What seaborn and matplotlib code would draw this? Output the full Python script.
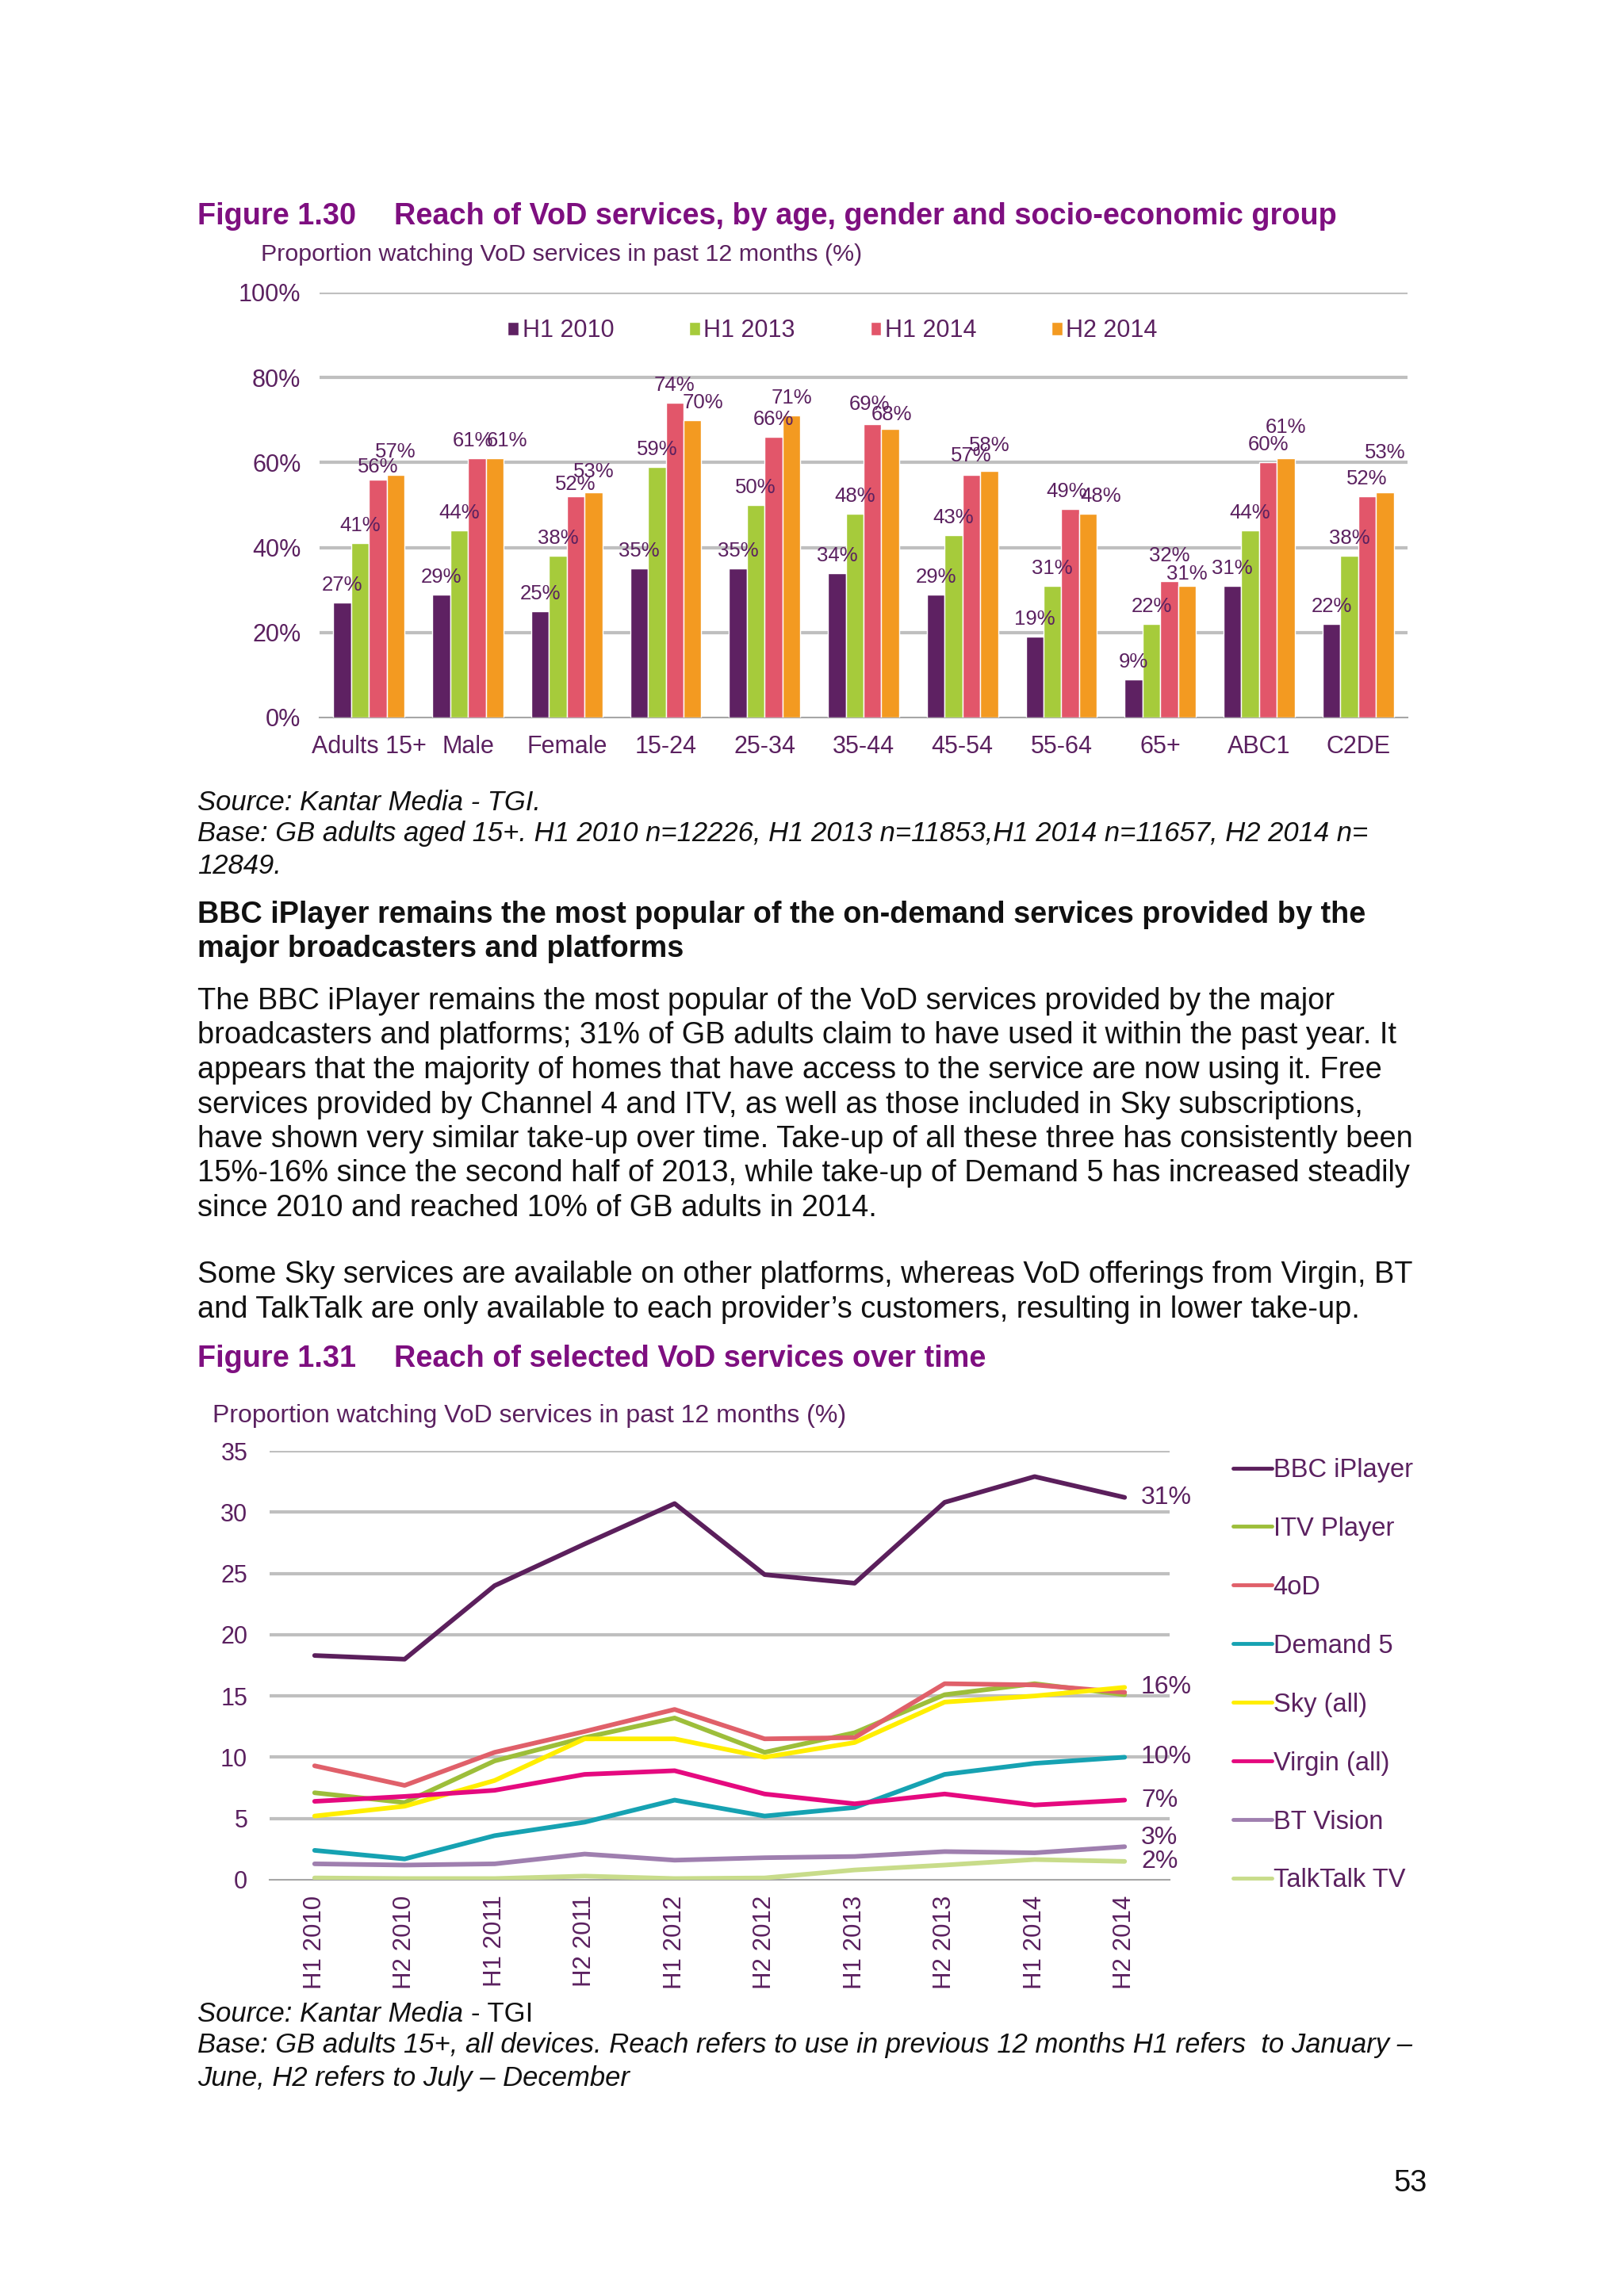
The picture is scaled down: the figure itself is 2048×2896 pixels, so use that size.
import matplotlib
matplotlib.use("Agg")
import matplotlib.pyplot as plt
import numpy as np
import pandas as pd
import seaborn as sns

# ---------------- data: Figure 1.30 ----------------
bar_groups = ["Adults 15+", "Male", "Female", "15-24", "25-34", "35-44",
              "45-54", "55-64", "65+", "ABC1", "C2DE"]
bar_periods = ["H1 2010", "H1 2013", "H1 2014", "H2 2014"]
bar_h1_2010 = [27, 29, 25, 35, 35, 34, 29, 19, 9, 31, 22]
bar_h1_2013 = [41, 44, 38, 59, 50, 48, 43, 31, 22, 44, 38]
bar_h1_2014 = [56, 61, 52, 74, 66, 69, 57, 49, 32, 60, 52]
bar_h2_2014 = [57, 61, 53, 70, 71, 68, 58, 48, 31, 61, 53]
bar_yticks = [0, 20, 40, 60, 80, 100]

# ---------------- data: Figure 1.31 ----------------
line_periods = ["H1 2010", "H2 2010", "H1 2011", "H2 2011", "H1 2012",
                "H2 2012", "H1 2013", "H2 2013", "H1 2014", "H2 2014"]
services = ["BBC iPlayer", "ITV Player", "4oD", "Demand 5", "Sky (all)",
            "Virgin (all)", "BT Vision", "TalkTalk TV"]
bbc_iplayer = [18.3, 18.0, 24.0, 27.4, 30.7, 24.9, 24.2, 30.8, 32.9, 31.2]
itv_player = [7.1, 6.3, 9.7, 11.6, 13.2, 10.4, 12.0, 15.1, 16.0, 15.1]
four_od = [9.3, 7.7, 10.4, 12.1, 13.9, 11.5, 11.6, 16.0, 15.9, 15.3]
demand_5 = [2.4, 1.7, 3.6, 4.7, 6.5, 5.2, 5.9, 8.6, 9.5, 10.0]
sky_all = [5.2, 6.0, 8.1, 11.5, 11.5, 10.0, 11.2, 14.5, 15.0, 15.7]
virgin_all = [6.4, 6.8, 7.3, 8.6, 8.9, 7.0, 6.2, 7.0, 6.1, 6.5]
bt_vision = [1.3, 1.2, 1.3, 2.1, 1.6, 1.8, 1.9, 2.3, 2.2, 2.7]
talktalk_tv = [0.15, 0.1, 0.1, 0.3, 0.1, 0.15, 0.8, 1.2, 1.65, 1.5]
end_labels = {"BBC iPlayer": "31%", "Sky (all)": "16%", "Demand 5": "10%",
              "Virgin (all)": "7%", "BT Vision": "3%", "TalkTalk TV": "2%"}
line_yticks = [0, 5, 10, 15, 20, 25, 30, 35]

# ---------------- styles ----------------
W, H = 2048, 2896
PT = 100 / 72  # pixels per point at dpi 100
PURPLE = "#5B2160"
TITLE = "#7E0F80"
BLACK = "#111111"
GRID = "#BFBFBF"
AXIS = "#A6A6A6"
bar_colors = ["#5E2162", "#A6CB3B", "#E2566A", "#F39A21"]
line_colors = {"BBC iPlayer": "#5B1F5C", "ITV Player": "#9DBE3A", "4oD": "#E0606A",
               "Demand 5": "#16A2B2", "Sky (all)": "#FFEE00", "Virgin (all)": "#E5097F",
               "BT Vision": "#9F7FAF", "TalkTalk TV": "#C8DC8A"}
# label placement tweaks (pixels), mimicking the staggered labels of the original
label_nudge = {
    ("Adults 15+", "H1 2014"): (0, -6), ("Adults 15+", "H2 2014"): (0, 7),
    ("Male", "H1 2014"): (-5, 0), ("Male", "H2 2014"): (16, 0),
    ("Female", "H1 2014"): (0, -7), ("Female", "H2 2014"): (0, 4),
    ("15-24", "H2 2014"): (13, 0),
    ("35-44", "H1 2014"): (-4, 3), ("35-44", "H2 2014"): (2, -4),
    ("45-54", "H1 2014"): (0, 2), ("45-54", "H2 2014"): (0, 10),
    ("55-64", "H1 2014"): (-4, 0), ("55-64", "H2 2014"): (16, 0),
    ("65+", "H1 2014"): (0, 10), ("65+", "H2 2014"): (0, -7),
    ("ABC1", "H2 2014"): (0, 17),
    ("C2DE", "H2 2014"): (0, 28),
}

sns.set_style("white")
plt.rcParams["font.family"] = ["Liberation Sans", "DejaVu Sans"]

fig = plt.figure(figsize=(W / 100, H / 100), dpi=100)
fig.patch.set_facecolor("white")
renderer = fig.canvas.get_renderer()


def fit_size(s, width, **kw):
    t = fig.text(0, 0, s, fontsize=20, **kw)
    w = t.get_window_extent(renderer).width
    t.remove()
    return 20 * width / w


def put(x, y, s, size, **kw):
    kw.setdefault("va", "center")
    return fig.text(x / W, 1 - y / H, s, fontsize=size, **kw)


# ---------------- page text ----------------
title_size = fit_size("Reach of VoD services, by age, gender and socio-economic group", 1189,
                      fontweight="bold")
put(249, 273, "Figure 1.30", title_size, fontweight="bold", color=TITLE)
put(497, 273, "Reach of VoD services, by age, gender and socio-economic group", title_size,
    fontweight="bold", color=TITLE)

sub_size = fit_size("Proportion watching VoD services in past 12 months (%)", 757)
put(329, 321, "Proportion watching VoD services in past 12 months (%)", sub_size, color=PURPLE)

base1 = "Base: GB adults aged 15+. H1 2010 n=12226, H1 2013 n=11853,H1 2014 n=11657, H2 2014 n="
src_size = fit_size(base1, 1472, style="italic")
put(249, 1012, "Source: Kantar Media - TGI.", src_size, style="italic", color=BLACK)
put(249, 1052, base1, src_size, style="italic", color=BLACK)
put(249, 1093, "12849.", src_size, style="italic", color=BLACK)

head1 = "BBC iPlayer remains the most popular of the on-demand services provided by the"
head_size = fit_size(head1, 1470, fontweight="bold")
put(249, 1154, head1, head_size, fontweight="bold", color=BLACK)
put(249, 1197, "major broadcasters and platforms", head_size, fontweight="bold", color=BLACK)

para1 = [
    "The BBC iPlayer remains the most popular of the VoD services provided by the major",
    "broadcasters and platforms; 31% of GB adults claim to have used it within the past year. It",
    "appears that the majority of homes that have access to the service are now using it. Free",
    "services provided by Channel 4 and ITV, as well as those included in Sky subscriptions,",
    "have shown very similar take-up over time. Take-up of all these three has consistently been",
    "15%-16% since the second half of 2013, while take-up of Demand 5 has increased steadily",
    "since 2010 and reached 10% of GB adults in 2014.",
]
para2 = [
    "Some Sky services are available on other platforms, whereas VoD offerings from Virgin, BT",
    "and TalkTalk are only available to each provider\u2019s customers, resulting in lower take-up.",
]
body_size = fit_size(para1[4], 1531)
for i, line in enumerate(para1):
    put(249, 1263 + i * 43.5, line, body_size, color=BLACK)
for i, line in enumerate(para2):
    put(249, 1608 + i * 44, line, body_size, color=BLACK)

put(249, 1714, "Figure 1.31", title_size, fontweight="bold", color=TITLE)
put(497, 1714, "Reach of selected VoD services over time", title_size, fontweight="bold", color=TITLE)

sub2_size = fit_size("Proportion watching VoD services in past 12 months (%)", 799)
put(268, 1786, "Proportion watching VoD services in past 12 months (%)", sub2_size, color=PURPLE)

t_src = put(249, 2541, "Source: Kantar Media ", src_size, style="italic", color=BLACK)
bb = t_src.get_window_extent(renderer)
fig.text(bb.x1 / W, 1 - 2541 / H, "- TGI", fontsize=src_size, va="center", color=BLACK)
base2 = "Base: GB adults 15+, all devices. Reach refers to use in previous 12 months H1 refers  to January \u2013"
put(249, 2580, base2, src_size, style="italic", color=BLACK)
put(249, 2621, "June, H2 refers to July \u2013 December", src_size, style="italic", color=BLACK)

put(1800, 2754, "53", body_size, ha="right", color=BLACK)

# ---------------- Figure 1.30 bar chart ----------------
ax1 = fig.add_axes([403 / W, 1 - 905 / H, 1372 / W, 536 / H])
df_bar = pd.DataFrame({
    "group": bar_groups * 4,
    "period": np.repeat(bar_periods, len(bar_groups)),
    "value": bar_h1_2010 + bar_h1_2013 + bar_h1_2014 + bar_h2_2014,
})
sns.barplot(data=df_bar, x="group", y="value", hue="period", order=bar_groups,
            hue_order=bar_periods, palette=bar_colors, saturation=1, width=0.72,
            gap=0, errorbar=None, ax=ax1, zorder=3)
for period, cont in zip(bar_periods, ax1.containers):
    for group, patch, val in zip(bar_groups, cont.patches, cont.datavalues):
        dx, dy = label_nudge.get((group, period), (0, 0))
        ax1.annotate(f"{val:.0f}%", xy=(patch.get_x() + patch.get_width() / 2, patch.get_height()),
                     xytext=(dx / PT, (10 + dy) / PT), textcoords="offset points",
                     ha="center", va="bottom", fontsize=18.5, color=PURPLE,
                     annotation_clip=False, zorder=5)
ax1.set_ylim(0, 100)
ax1.set_xlim(-0.5, len(bar_groups) - 0.5)
ax1.set_yticks(bar_yticks)
ax1.set_yticklabels([f"{v}%" for v in bar_yticks])
for v in bar_yticks[1:]:
    ax1.axhline(v, color=GRID, lw=3, zorder=0)
ax1.set_xlabel("")
ax1.set_ylabel("")
for s in ["left", "right", "top"]:
    ax1.spines[s].set_visible(False)
ax1.spines["bottom"].set_color(AXIS)
ax1.spines["bottom"].set_linewidth(1.5)
ax1.set_xticks(np.arange(-0.5, len(bar_groups), 1), minor=True)
ax1.tick_params(axis="x", which="minor", length=10, width=1.5, color=AXIS, direction="out")
ax1.tick_params(axis="x", which="major", length=0, pad=15.5, labelsize=22, labelcolor=PURPLE)
ax1.tick_params(axis="y", length=0, pad=17, labelsize=22, labelcolor=PURPLE)
ax1.set_facecolor("none")
h1, l1 = ax1.get_legend_handles_labels()
ax1.legend(h1, l1, loc="center", bbox_to_anchor=(0.4716, 0.91), ncol=4, frameon=False,
           fontsize=22, handlelength=0.45, handleheight=0.45, handletextpad=0.15,
           columnspacing=3.1, labelcolor=PURPLE)

# ---------------- Figure 1.31 line chart ----------------
ax2 = fig.add_axes([340 / W, 1 - 2371 / H, 1135 / W, 541 / H])
series = {"BBC iPlayer": bbc_iplayer, "ITV Player": itv_player, "4oD": four_od,
          "Demand 5": demand_5, "Sky (all)": sky_all, "Virgin (all)": virgin_all,
          "BT Vision": bt_vision, "TalkTalk TV": talktalk_tv}
df_line = pd.DataFrame({
    "period": pd.Categorical(line_periods * len(services), categories=line_periods, ordered=True),
    "service": np.repeat(services, len(line_periods)),
    "value": sum((series[s] for s in services), []),
})
sns.lineplot(data=df_line, x="period", y="value", hue="service", hue_order=services,
             palette=line_colors, linewidth=4.2, ax=ax2, zorder=3)
ax2.set_ylim(0, 35)
ax2.set_xlim(-0.5, len(line_periods) - 0.5)
ax2.set_yticks(line_yticks)
ax2.set_yticklabels([str(v) for v in line_yticks])
for v in line_yticks[1:]:
    ax2.axhline(v, color=GRID, lw=3, zorder=0)
ax2.set_xlabel("")
ax2.set_ylabel("")
for s in ["left", "right", "top"]:
    ax2.spines[s].set_visible(False)
ax2.spines["bottom"].set_color(AXIS)
ax2.spines["bottom"].set_linewidth(1.5)
ax2.set_xticks(range(len(line_periods)))
ax2.set_xticklabels(line_periods, rotation=90)
ax2.set_xticks(np.arange(-0.5, len(line_periods), 1), minor=True)
ax2.tick_params(axis="x", which="minor", length=7, width=1.5, color=AXIS, direction="out")
ax2.tick_params(axis="x", which="major", length=0, pad=14, labelsize=22.5, labelcolor=PURPLE)
ax2.tick_params(axis="y", length=0, pad=20, labelsize=22, labelcolor=PURPLE)
ax2.set_facecolor("none")
for svc, lab in end_labels.items():
    dy = 8 if svc == "BT Vision" else 0
    ax2.annotate(lab, xy=(len(line_periods) - 1, series[svc][-1]), xytext=(15, dy),
                 textcoords="offset points", va="center", fontsize=23, color=PURPLE,
                 annotation_clip=False)
h2, l2 = ax2.get_legend_handles_labels()
leg = ax2.legend(h2, l2, loc="upper left", bbox_to_anchor=(1555 / W, 1 - 1839 / H),
                 bbox_transform=fig.transFigure, frameon=False, fontsize=23.5,
                 handlelength=1.5, handletextpad=0.05, labelspacing=1.315, borderpad=0,
                 borderaxespad=0, labelcolor=PURPLE)
for ln in leg.get_lines():
    ln.set_linewidth(3.5)

fig.savefig("out.png", dpi=100, facecolor="white")
